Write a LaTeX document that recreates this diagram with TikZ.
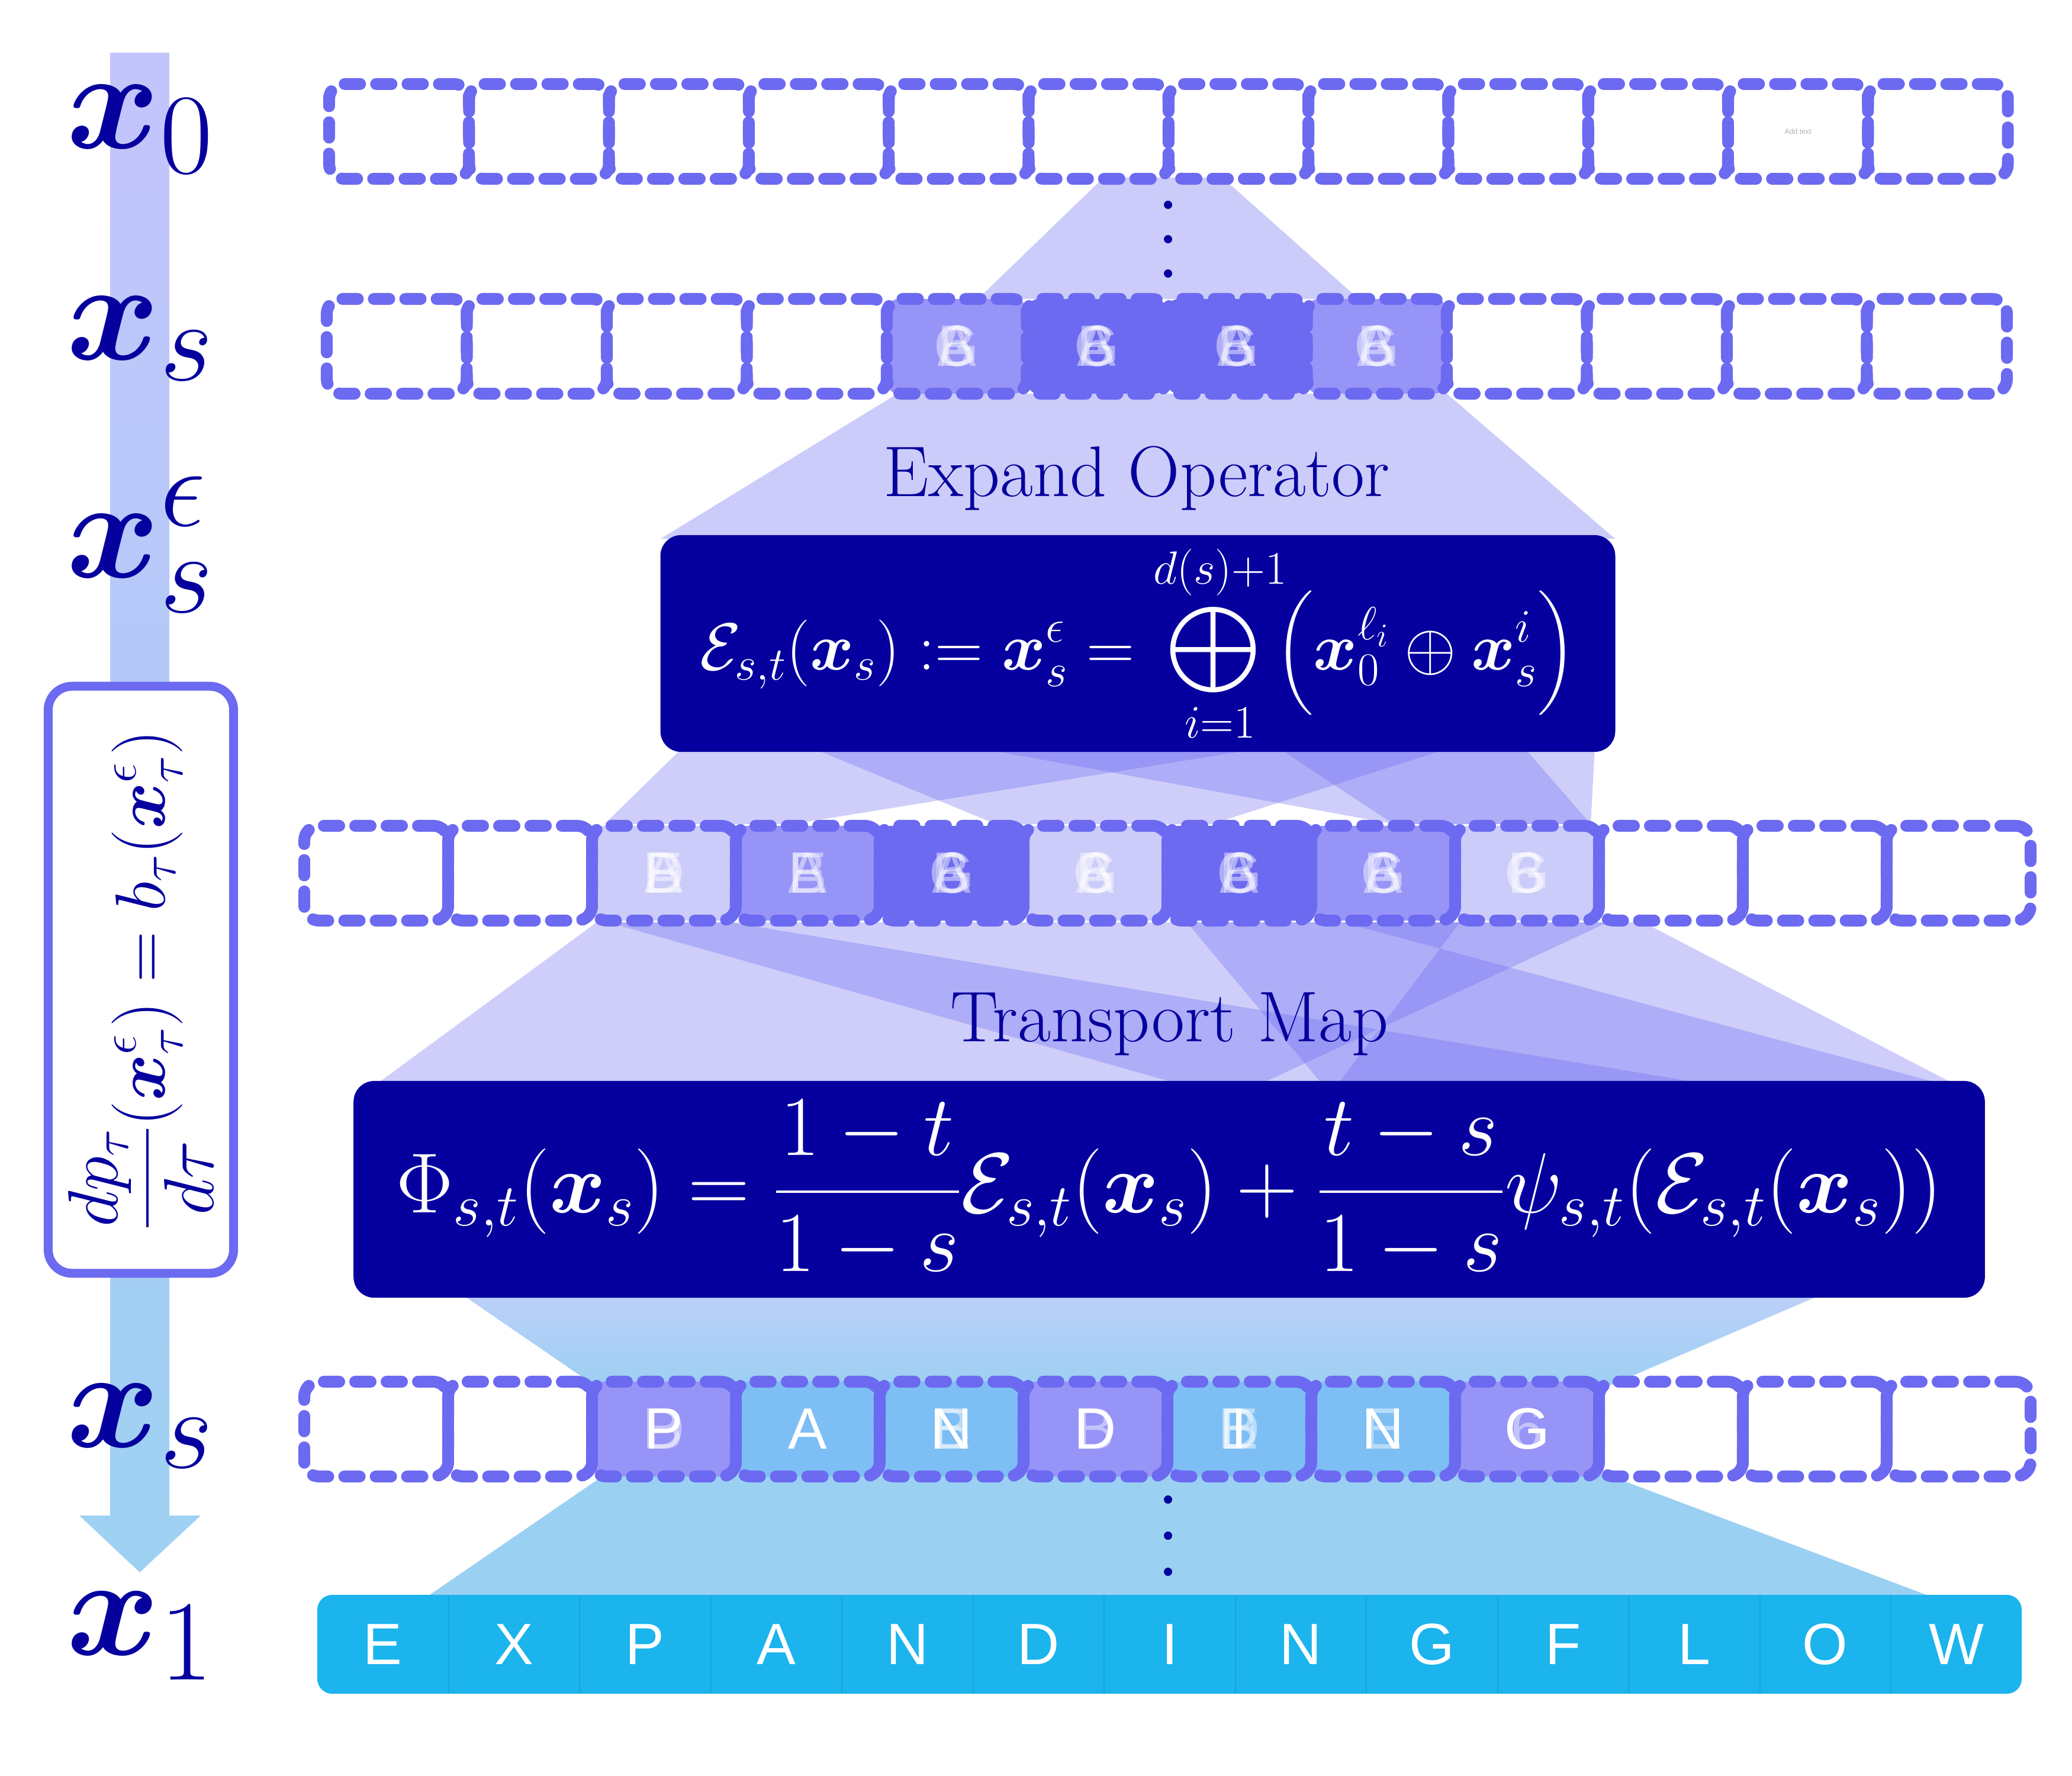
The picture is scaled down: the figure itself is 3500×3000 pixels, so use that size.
\RequirePackage{fix-cm}
\documentclass[tikz,border=0pt]{standalone}
\usepackage{amsmath,bm,graphicx}
\usepackage{fontspec}
\newfontfamily\lettersf{Liberation Sans}
\DeclareMathSizes{68}{68}{55}{44}
\usetikzlibrary{positioning}
\definecolor{navy}{RGB}{6,0,158}
\definecolor{dashcol}{RGB}{108,106,240}
\definecolor{lavcell}{RGB}{204,204,250}
\definecolor{midcell}{RGB}{151,148,247}
\definecolor{bluecell}{RGB}{125,190,245}
\definecolor{barcyan}{RGB}{27,180,236}
\definecolor{barsep}{RGB}{20,166,222}
\definecolor{funblue}{RGB}{154,209,242}
\definecolor{gradtop}{RGB}{189,208,250}
\definecolor{gradbot}{RGB}{157,207,242}
\definecolor{arrowtop}{RGB}{196,196,252}
\definecolor{arrowbot}{RGB}{157,209,242}
\newcommand{\bigxor}{\mathop{\scalebox{1.18}{$\displaystyle\bigoplus$}}}

\begin{document}
\begin{tikzpicture}[x=0.01cm,y=-0.01cm,
  cell/.style={draw=dashcol,line width=0.2cm,dash pattern=on 0.26cm off 0.27cm,
    line cap=round,rounded corners=0.25cm,minimum height=1.6cm,inner sep=0pt},
  ribbon/.style={fill=dashcol,fill opacity=0.33},
  ghost/.style={text=white,text opacity=0.45,inner sep=0pt,
    font=\lettersf\fontsize{28}{30}\selectfont},
  tok/.style={text=white,inner sep=0pt,font=\lettersf\fontsize{28}{30}\selectfont},
  rowlabel/.style={anchor=base west,inner sep=0pt,text=navy,font=\fontsize{68}{76}\selectfont},
  title/.style={text=navy,inner sep=0pt,font=\fontsize{34.5}{40}\selectfont},
  mathbox/.style={fill=navy,text=white,rounded corners=0.35cm,inner sep=0pt,minimum height=3.66cm}]
\useasboundingbox (0,0) rectangle (3500,3000);

% time arrow
\shade[top color=arrowtop,bottom color=arrowbot] (186,89) -- (286,89) -- (286,2560)
  -- (339,2560) -- (236,2656) -- (134,2560) -- (186,2560) -- cycle;

% funnels between the rows
\fill[lavcell] (1864,300) -- (2065,300) -- (2295,505) -- (1652,505) -- cycle;
\fill[lavcell] (1516,665) -- (2444,665) -- (2728,910) -- (1116,910) -- cycle;
\fill[ribbon] (1156,1260) -- (2154,1260) -- (1339,1392) -- (1021,1392) -- cycle;
\fill[ribbon] (1363,1260) -- (2460,1260) -- (2047,1392) -- (1682,1392) -- cycle;
\fill[ribbon] (1634,1260) -- (2694,1260) -- (2687,1392) -- (2354,1392) -- cycle;
\fill[ribbon] (2154,1260) -- (2572,1260) -- (2687,1392) -- (2354,1392) -- cycle;
\fill[ribbon] (1008,1558) -- (2716,1558) -- (2127,1832) -- (635,1832) -- cycle;
\fill[ribbon] (2005,1558) -- (2776,1558) -- (3303,1832) -- (2234,1832) -- cycle;
\fill[ribbon] (1027,1558) -- (1234,1558) -- (2889,1832) -- (1995,1832) -- cycle;
\fill[ribbon] (2268,1558) -- (3284,1832) -- (2259,1832) -- (2466,1558) -- cycle;
\shade[top color=gradtop,bottom color=gradbot] (778,2185) -- (3081,2185) -- (2720,2340) -- (1004,2340) -- cycle;
\fill[funblue] (1023,2490) -- (2712,2490) -- (3270,2700) -- (717,2700) -- cycle;

% filled tokens
\foreach \k/\col in {5/midcell,6/dashcol,7/dashcol,8/midcell}
  \fill[\col,rounded corners=0.2cm] ({552+236.5*(\k-1)},505) rectangle ++(236.5,160);
\foreach \k/\col in {3/lavcell,4/midcell,5/dashcol,6/lavcell,7/dashcol,8/midcell,9/lavcell}
  \fill[\col,rounded corners=0.2cm] ({514+243*(\k-1)},1395) rectangle ++(243,160);
\foreach \k/\col in {3/midcell,4/bluecell,5/bluecell,6/midcell,7/bluecell,8/bluecell,9/midcell}
  \fill[\col,rounded corners=0.2cm] ({514+243*(\k-1)},2334) rectangle ++(243,160);

% dashed token slots
\foreach \k in {1,...,12} {
  \node[cell,minimum width=2.363cm] (a\k) at ({556+236.3*(\k-0.5)},222) {};
  \node[cell,minimum width=2.365cm] (b\k) at ({552+236.5*(\k-0.5)},585) {};
  \node[cell,minimum width=2.43cm] (c\k) at ({514+243*(\k-0.5)},1475) {};
  \node[cell,minimum width=2.43cm] (d\k) at ({514+243*(\k-0.5)},2414) {};
}
\node[text=gray!60,inner sep=0pt,font=\lettersf\fontsize{3.5}{4}\selectfont] (addtext) at (a11) {Add text};

% overlaid letters
\foreach \k in {5,...,8}
  \foreach \l in {A,B,G,6}
    \node[ghost] at (b\k) {\l};
\foreach \k/\g in {3/{E,D,B,A},4/{E,B,A},5/{G,B,A,6},6/{G,B,A,6},7/{G,B,A,6},8/{G,B,A,6},9/{B,G,6}}
  \foreach \l in \g
    \node[ghost] at (c\k) {\l};
\foreach \k/\g in {3/{B,D},5/{E,B},6/{B},7/{B,E,D},8/{E},9/{6}}
  \foreach \l in \g
    \node[ghost] at (d\k) {\l};
\foreach \k/\l in {3/P,4/A,5/N,6/D,7/I,8/N,9/G}
  \node[tok] (t\k) at (d\k) {\l};

% vertical dots
\fill[navy] (1973,346) circle (7);
\fill[navy] (1973,404) circle (7);
\fill[navy] (1973,462) circle (7);
\fill[navy] (1973,2533) circle (7);
\fill[navy] (1973,2594) circle (7);
\fill[navy] (1973,2655) circle (7);

% operators
\node[title] (exptitle) at (1920,808) {Expand Operator};
\node[mathbox,minimum width=16.12cm,font=\fontsize{32}{38}\selectfont] (expand) at (1922,1087)
  {$\displaystyle \mathcal{E}_{s,t}(\bm{x}_s) := \bm{x}_s^{\epsilon} = \bigxor_{i=1}^{d(s)+1}\!\!
   \left(\vphantom{\bigxor}\bm{x}_0^{\ell_i} \oplus \bm{x}_s^{i}\right)$};
\node[title] (maptitle) at (1975,1730) {Transport Map};
\node[mathbox,minimum width=27.54cm,font=\fontsize{41}{48}\selectfont] (transport) at (1975,2009)
  {$\displaystyle \Phi_{s,t}(\bm{x}_s) = \frac{1-t}{1-s}\mathcal{E}_{s,t}(\bm{x}_s) + \frac{t-s}{1-s}\psi_{s,t}(\mathcal{E}_{s,t}(\bm{x}_s))$};

% row labels
\node[rowlabel] (lx0) at (112,250) {$\bm{x}_0$};
\node[rowlabel] (lxs) at (112,607) {$\bm{x}_s$};
\node[rowlabel] (lxe) at (112,975) {$\bm{x}_s^{\epsilon}$};
\node[rowlabel] (lxt) at (112,2444) {$\bm{x}_s$};
\node[rowlabel] (lx1) at (112,2795) {$\bm{x}_1$};

% flow equation
\node[draw=dashcol,line width=0.15cm,fill=white,rounded corners=0.4cm,
  minimum width=3.13cm,minimum height=9.91cm,inner sep=0pt] (flow) at (238,1655) {};
\node[rotate=90,text=navy,inner sep=0pt,font=\fontsize{34}{40}\selectfont] (floweq) at (flow)
  {$\displaystyle \frac{dp_\tau}{d\tau}(\bm{x}_\tau^{\epsilon}) = b_\tau(\bm{x}_\tau^{\epsilon})$};

% target sequence
\fill[barcyan,rounded corners=0.25cm] (536,2694) rectangle (3415,2861);
\foreach \k in {1,...,12}
  \draw[barsep,line width=0.02cm] ({536+221.5*\k},2694) -- ++(0,167);
\foreach \l [count=\k] in {E,X,P,A,N,D,I,N,G,F,L,O,W}
  \node[tok] (e\k) at ({536+221.5*(\k-0.5)},2778) {\l};
\end{tikzpicture}
\end{document}
